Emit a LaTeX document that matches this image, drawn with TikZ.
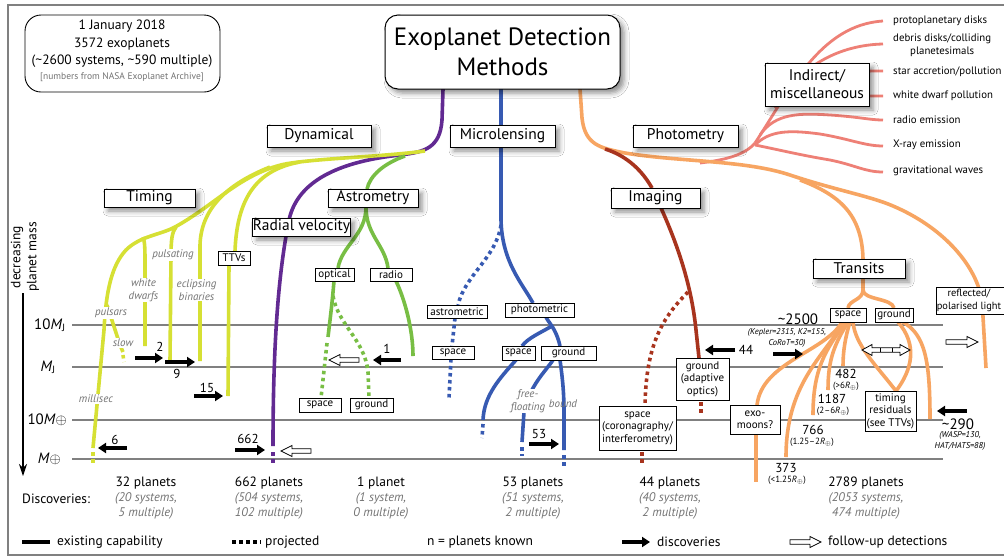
\documentclass[tikz,border=0pt]{standalone}
\usepackage{fontspec}
\setmainfont{PT Sans}
\usetikzlibrary{shadows.blur,arrows.meta}
\definecolor{cyel}{RGB}{214,224,52}
\definecolor{cpur}{RGB}{98,42,146}
\definecolor{cgrn}{RGB}{120,190,68}
\definecolor{cblu}{RGB}{55,90,178}
\definecolor{cbrn}{RGB}{168,52,30}
\definecolor{corg}{RGB}{247,165,98}
\definecolor{csal}{RGB}{238,128,118}
\definecolor{cgtx}{RGB}{115,115,115}
\definecolor{cline}{RGB}{128,128,128}
\newcommand\fsz[2]{\fontsize{#1}{#2}\selectfont}
\tikzset{
 mbox/.style={draw,line width=1pt,fill=white,inner sep=0pt,font=\fsz{15.5}{18},align=center,
   blur shadow={shadow xshift=4pt,shadow yshift=-4pt,shadow blur radius=5pt,shadow opacity=45}},
 sbox/.style={draw,line width=0.9pt,fill=white,inner sep=0pt,font=\fsz{11}{12.5},align=center},
 ilab/.style={fill=white,inner sep=1pt,font=\fsz{11}{12.5}\itshape,text=cgtx,align=center},
 num/.style={inner sep=0pt,font=\fsz{13}{15}},
 sml/.style={inner sep=0pt,font=\fsz{9}{11}},
 ksml/.style={inner sep=0pt,font=\fsz{8.5}{10.5}\itshape,align=center},
 axl/.style={inner sep=0pt,font=\fsz{15}{17}},
 disc/.style={inner sep=0pt,font=\fsz{13.5}{16}},
 dit/.style={inner sep=0pt,font=\fsz{12.5}{14.5}\itshape,text=cgtx,align=center},
 leg/.style={inner sep=0pt,font=\fsz{13.5}{16},anchor=west},
 mlab/.style={inner sep=0pt,font=\fsz{10.8}{12.5},anchor=west},
 ln/.style={line width=3.6pt},
 sln/.style={line width=2.8pt,csal},
 proj/.style={line width=3.6pt,dash pattern=on 3.5pt off 3.5pt},
 barr/.style={line width=3.6pt,-{Triangle[length=8pt,width=10pt]}},
 hline/.style={draw=cline,line width=1.3pt},
 pics/oarr/.style={code={\draw[line width=0.8pt,fill=white] (0,-2.3) -- (#1-11,-2.3) -- (#1-11,-5.5) -- (#1,0) -- (#1-11,5.5) -- (#1-11,2.3) -- (0,2.3) -- cycle;}},
}
\begin{document}
\begin{tikzpicture}[x=1pt,y=-1pt]
\useasboundingbox (0,0) rectangle (1004,558);
\fill[white] (0,0) rectangle (1004,558);
\draw[cline,line width=1.2pt] (8,5) rectangle (1012,555);

% mass lines
\draw[hline] (72,325) -- (943,325);
\draw[hline] (72,367) -- (943,367);
\draw[hline] (72,420) -- (943,420);
\draw[hline] (72,459) -- (943,459);
\node[axl,anchor=east] (l10mj) at (66,325) {10\textit{M}\textsubscript{J}};
\node[axl,anchor=east] (lmj) at (56,367) {\textit{M}\textsubscript{J}};
\node[axl,anchor=east] (l10me) at (67,420) {10\textit{M}$\oplus$};
\node[axl,anchor=east] (lme) at (61,459) {\textit{M}$\oplus$};
\node[rotate=90,align=center,inner sep=0pt,font=\fsz{13.5}{16}] (axlab) at (25,257) {decreasing\\planet mass};
\coordinate (axtop) at (23,293);
\coordinate (axbot) at (23,476);
\draw[line width=1.2pt,-{Stealth[length=12pt,width=8pt]}] (axtop) -- (axbot);

% salmon (indirect)
\draw[sln] (700,163) .. controls (725,160) and (745,155) .. (755,143);
\draw[sln] (755,143) .. controls (790,90) and (820,25) .. (883,21);
\draw[sln] (775,108) .. controls (800,65) and (840,45) .. (883,44);
\draw[sln] (790,95) .. controls (820,72) and (850,71) .. (883,71);
\draw[sln] (800,100) .. controls (830,96) and (860,96) .. (883,96);
\draw[sln] (760,135) .. controls (775,113) and (800,113) .. (830,115) .. controls (860,117) and (870,120) .. (883,120);
\draw[sln] (755,145) .. controls (770,130) and (790,130) .. (820,134) .. controls (850,139) and (865,146) .. (883,146);
\draw[sln] (755,145) .. controls (780,150) and (800,155) .. (830,160) .. controls (855,165) and (865,172) .. (883,172);

% purple
\draw[ln,cpur] (443,89) -- (442,120) .. controls (440,148) and (425,152) .. (400,155) .. controls (345,161) and (298,178) .. (289,220) .. controls (280,265) and (273,330) .. (273,446);
\draw[proj,cpur] (273,452) -- (273,464);

% yellow
\draw[ln,cyel] (425,151) .. controls (380,157) and (320,158) .. (285,164);
\draw[ln,cyel] (300,162) .. controls (255,170) and (237,200) .. (235,251);
\draw[ln,cyel] (229,265) -- (228,396);
\draw[ln,cyel] (285,164) .. controls (240,174) and (215,205) .. (175,227) .. controls (160,235) and (140,236) .. (126,250) .. controls (112,265) and (106,290) .. (104,330) -- (93,448);
\draw[proj,cyel] (93,452) -- (93,463);
\draw[ln,cyel] (270,167) .. controls (225,185) and (201,210) .. (200,245) -- (200,361);
\draw[ln,cyel] (176,227) .. controls (172,232) and (171,240) .. (171,256) -- (170,362);
\draw[ln,cyel] (143,237) .. controls (145,242) and (145,250) .. (145,265) -- (145,346);
\draw[ln,cyel] (107,305) -- (120,345) -- (123,352);
\draw[proj,cyel] (123,355) -- (124,362);

% green
\draw[ln,cgrn] (405,156) .. controls (385,163) and (370,175) .. (367,189);
\draw[ln,cgrn] (366,207) .. controls (366,235) and (342,245) .. (338,268);
\draw[ln,cgrn] (366,207) .. controls (366,235) and (385,245) .. (388,268);
\draw[ln,cgrn] (334,281) .. controls (332,305) and (330,320) .. (328,337);
\draw[proj,cgrn] (327,343) -- (321,398);
\draw[proj,cgrn] (333,296) .. controls (338,325) and (365,340) .. (368,372) -- (369,398);
\draw[ln,cgrn] (396,281) .. controls (405,300) and (413,330) .. (413,356);

% blue
\draw[ln,cblu] (501,89) -- (501,220) .. controls (502,262) and (522,283) .. (533,303);
\draw[proj,cblu] (501,225) .. controls (496,258) and (465,275) .. (458,305);
\draw[proj,cblu] (455,318) -- (452,346);
\draw[proj,cblu] (451,359) -- (449,398);
\draw[ln,cblu] (546,317) .. controls (548,322) and (556,328) .. (560,346);
\draw[ln,cblu] (552,326) .. controls (540,333) and (528,338) .. (522,346);
\draw[ln,cblu] (516,360) .. controls (500,378) and (484,395) .. (483,420);
\draw[proj,cblu] (483,424) -- (482,438);
\draw[ln,cblu] (553,360) .. controls (545,372) and (530,385) .. (524,412) -- (522,442);
\draw[proj,cblu] (522,447) -- (522,456);
\draw[ln,cblu] (560,360) .. controls (562,375) and (564,390) .. (564,412) -- (564,450);
\draw[proj,cblu] (564,455) -- (564,468);

% orange
\draw[ln,corg] (580,89) -- (582,118) .. controls (585,145) and (600,148) .. (625,153) .. controls (680,162) and (745,160) .. (790,175) .. controls (835,190) and (870,196) .. (893,206) .. controls (940,226) and (975,262) .. (982,300) -- (986,368);
\draw[ln,corg] (800,180) .. controls (840,195) and (862,215) .. (863,259);
\draw[ln,corg] (863,278) -- (863,290) .. controls (863,300) and (849,300) .. (848,308);
\draw[ln,corg] (863,290) .. controls (863,300) and (892,298) .. (894,308);
\draw[ln,corg] (842,322) .. controls (825,352) and (762,362) .. (757,405);
\draw[ln,corg] (756,434) -- (756,482);
\draw[ln,corg] (844,322) .. controls (822,358) and (786,385) .. (786,457);
\draw[ln,corg] (846,322) .. controls (825,350) and (813,370) .. (813,415);
\draw[ln,corg] (848,322) .. controls (834,345) and (828,360) .. (828,390);
\draw[ln,corg] (850,322) .. controls (845,338) and (843,352) .. (843,366);
\draw[ln,corg] (853,322) .. controls (855,345) and (876,365) .. (896,391);
\draw[ln,corg] (898,322) .. controls (918,345) and (912,370) .. (896,391);
\draw[ln,corg] (903,322) .. controls (925,335) and (930,360) .. (930,419);

% brown
\draw[ln,cbrn] (605,149) .. controls (628,156) and (643,172) .. (652,188);
\draw[ln,cbrn] (661,208) .. controls (680,250) and (692,290) .. (696,330) -- (699,358);
\draw[proj,cbrn] (688,292) .. controls (662,318) and (646,345) .. (645,406);
\draw[proj,cbrn] (642,452) -- (642,465);
\draw[proj,cbrn] (701,402) -- (701,415);

% info box and title
\node[draw,line width=0.9pt,rounded corners=16pt,minimum width=195pt,minimum height=77pt,inner sep=0pt] (info) at (122.5,53.5) {};
\node[inner sep=0pt,align=center,font=\fsz{13.5}{17.5}] (infot) at (122,44) {1 January 2018\\3572 exoplanets\\(\textasciitilde2600 systems, \textasciitilde590 multiple)};
\node[inner sep=0pt,font=\fsz{9.5}{11},text=cgtx] (infos) at (122,77) {[numbers from NASA Exoplanet Archive]};
\node[draw,line width=1pt,fill=white,rounded corners=13pt,minimum width=235pt,minimum height=74pt,inner sep=0pt,align=center,font=\fsz{25}{30},
  blur shadow={shadow xshift=4pt,shadow yshift=-4pt,shadow blur radius=5pt,shadow opacity=45}] (title) at (502.5,52) {Exoplanet Detection\\Methods};

% main boxes
\node[mbox,minimum width=104pt,minimum height=22pt] (dyn) at (319,136) {Dynamical};
\node[mbox,minimum width=105pt,minimum height=22pt] (mic) at (502.5,136) {Microlensing};
\node[mbox,minimum width=105pt,minimum height=22pt] (pho) at (685.5,136) {Photometry};
\node[mbox,minimum width=91pt,minimum height=18pt] (tim) at (149.5,198) {Timing};
\node[mbox,minimum width=90pt,minimum height=18pt] (ast) at (373,198) {Astrometry};
\node[mbox,minimum width=89pt,minimum height=20pt] (img) at (655.5,198) {Imaging};
\node[mbox,minimum width=92pt,minimum height=19pt] (tra) at (859,268.5) {Transits};
\node[mbox,minimum width=87pt,minimum height=18pt] (rv) at (301.5,227) {Radial velocity};
\node[mbox,minimum width=104pt,minimum height=43pt] (ind) at (817,84.5) {Indirect/\\miscellaneous};

% indirect labels
\node[mlab] (i1) at (893,21) {protoplanetary disks};
\node[mlab,align=center] (i2) at (893,45) {debris disks/colliding\\planetesimals};
\node[mlab] (i3) at (893,72) {star accretion/pollution};
\node[mlab] (i4) at (893,96) {white dwarf pollution};
\node[mlab] (i5) at (893,120) {radio emission};
\node[mlab] (i6) at (893,145) {X-ray emission};
\node[mlab] (i7) at (893,171) {gravitational waves};

% small boxes
\node[sbox,minimum width=32pt,minimum height=14pt] (ttv) at (234,258) {TTVs};
\node[sbox,minimum width=39pt,minimum height=13pt] (opt) at (334.5,274.5) {optical};
\node[sbox,minimum width=42pt,minimum height=13pt] (rad) at (391,274.5) {radio};
\node[sbox,minimum width=42pt,minimum height=14pt] (asp) at (320,405) {space};
\node[sbox,minimum width=43pt,minimum height=14pt] (agr) at (371.5,405) {ground};
\node[sbox,minimum width=60pt,minimum height=13pt] (mam) at (457,311.5) {astrometric};
\node[sbox,minimum width=42pt,minimum height=13pt] (msp) at (453,352.5) {space};
\node[sbox,minimum width=69pt,minimum height=14pt] (mph) at (539.5,310) {photometric};
\node[sbox,minimum width=33pt,minimum height=14pt] (psp) at (518.5,353) {space};
\node[sbox,minimum width=55pt,minimum height=14pt] (pgr) at (568.5,353) {ground};
\node[sbox,minimum width=53pt,minimum height=42pt] (igr) at (702.5,379) {ground\\(adaptive\\optics)};
\node[sbox,minimum width=77pt,minimum height=44pt] (isp) at (637.5,428) {space\\(coronagraphy/\\interferometry)};
\node[sbox,minimum width=36pt,minimum height=14pt] (tsp) at (848,315) {space};
\node[sbox,minimum width=38pt,minimum height=14pt] (tgr) at (894,315) {ground};
\node[sbox,minimum width=50pt,minimum height=29pt] (exo) at (755,419.5) {exo-\\moons?};
\node[sbox,minimum width=51pt,minimum height=40pt] (tres) at (890.5,411) {timing\\residuals\\(see TTVs)};
\node[sbox,minimum width=72pt,minimum height=27pt] (refl) at (972,300.5) {};
\node[inner sep=0pt,align=center,font=\fsz{10.4}{12.5}] (reflt) at (969,300.5) {reflected/\\polarised light};

% italic labels
\node[ilab] (lpul) at (111,313) {pulsars};
\node[ilab] (lslow) at (123,343) {slow};
\node[ilab] (lmil) at (96,399) {millisec};
\node[ilab] (lwd) at (143.5,290) {white\\dwarfs};
\node[ilab] (lpuls) at (173,255) {pulsating};
\node[ilab] (lecl) at (196.5,290) {eclipsing\\binaries};
\node[ilab] (lff) at (528,401) {free-\\floating};
\node[ilab,fill=none] (lbd) at (563,404) {bound};

% discovery arrows
\draw[barr] (135,358) -- (163,358);
\draw[barr] (165,362) -- (195,362);
\draw[barr] (194,396) -- (223,396);
\draw[barr] (127,448) -- (98,448);
\draw[barr] (235,450) -- (265,450);
\draw[barr] (401,360) -- (373,360);
\draw[barr] (529,444) -- (559,444);
\draw[barr] (735,350) -- (705,350);
\draw[barr] (773,354) -- (803,354);
\draw[barr] (967,411) -- (937,411);
\pic[rotate=180] at (311,451) {oarr=30};
\pic[rotate=180] at (359,360) {oarr=30};
\pic at (946,342) {oarr=32};
\draw[line width=0.8pt,fill=white] (862,350) -- (872,344.5) -- (872,347.7) -- (900,347.7) -- (900,344.5) -- (910,350) -- (900,355.5) -- (900,352.3) -- (872,352.3) -- (872,355.5) -- cycle;
\draw[line width=0.8pt] (880,347.7) -- (880,352.3) (892,347.7) -- (892,352.3);

% numbers
\node[num] (n2) at (160,347) {2};
\node[num] (n9) at (177,374) {9};
\node[num] (n15) at (207,388) {15};
\node[num] (n6) at (115,440) {6};
\node[num] (n662) at (248,439) {662};
\node[num] (n1) at (387,349) {1};
\node[num] (n53) at (539,434) {53};
\node[num] (n44) at (746,350) {44};
\node[num,font=\fsz{15}{17}] (n2500) at (798,319) {\textasciitilde2500};
\node[ksml] (nkep) at (787,338) {(Kepler=2315, K2=155,\\CoRoT=30)};
\node[num,font=\fsz{15}{17}] (n290) at (958,424) {\textasciitilde290};
\node[ksml] (nwasp) at (960,441) {(WASP=130,\\HAT/HATS=88)};
\node[num] (n482) at (846,374) {482};
\node[sml] (r482) at (846,386) {(>6\textit{R}$_\oplus$)};
\node[num] (n1187) at (832,399) {1187};
\node[sml] (r1187) at (833,411) {(2--6\textit{R}$_\oplus$)};
\node[num] (n766) at (813,430) {766};
\node[sml] (r766) at (812,442) {(1.25--2\textit{R}$_\oplus$)};
\node[num] (n373) at (786,468) {373};
\node[sml] (r373) at (787,480) {(<1.25\textit{R}$_\oplus$)};

% discoveries row
\node[disc,anchor=west] (dlab) at (22,499) {Discoveries:};
\node[disc] (d1) at (146,483) {32 planets};
\node[dit] (d1b) at (146,506) {(20 systems,\\5 multiple)};
\node[disc] (d2) at (269,483) {662 planets};
\node[dit] (d2b) at (269,506) {(504 systems,\\102 multiple)};
\node[disc] (d3) at (381,483) {1 planet};
\node[dit] (d3b) at (381,506) {(1 system,\\0 multiple)};
\node[disc] (d4) at (533,483) {53 planets};
\node[dit] (d4b) at (533,506) {(51 systems,\\2 multiple)};
\node[disc] (d5) at (670,483) {44 planets};
\node[dit] (d5b) at (670,506) {(40 systems,\\2 multiple)};
\node[disc] (d6) at (866,483) {2789 planets};
\node[dit] (d6b) at (866,506) {(2053 systems,\\474 multiple)};

% legend
\draw[line width=3.6pt] (22,542) -- (50,542);
\node[leg] (g1) at (57,542) {existing capability};
\draw[proj,dash pattern=on 4pt off 3pt] (232,542) -- (261,542);
\node[leg] (g2) at (265,542) {projected};
\node[leg] (g3) at (427,542) {n = planets known};
\draw[barr] (622,542) -- (650,542);
\node[leg] (g4) at (657,542) {discoveries};
\pic at (790,542) {oarr=31};
\node[leg] (g5) at (828,542) {follow-up detections};
\end{tikzpicture}
\end{document}
